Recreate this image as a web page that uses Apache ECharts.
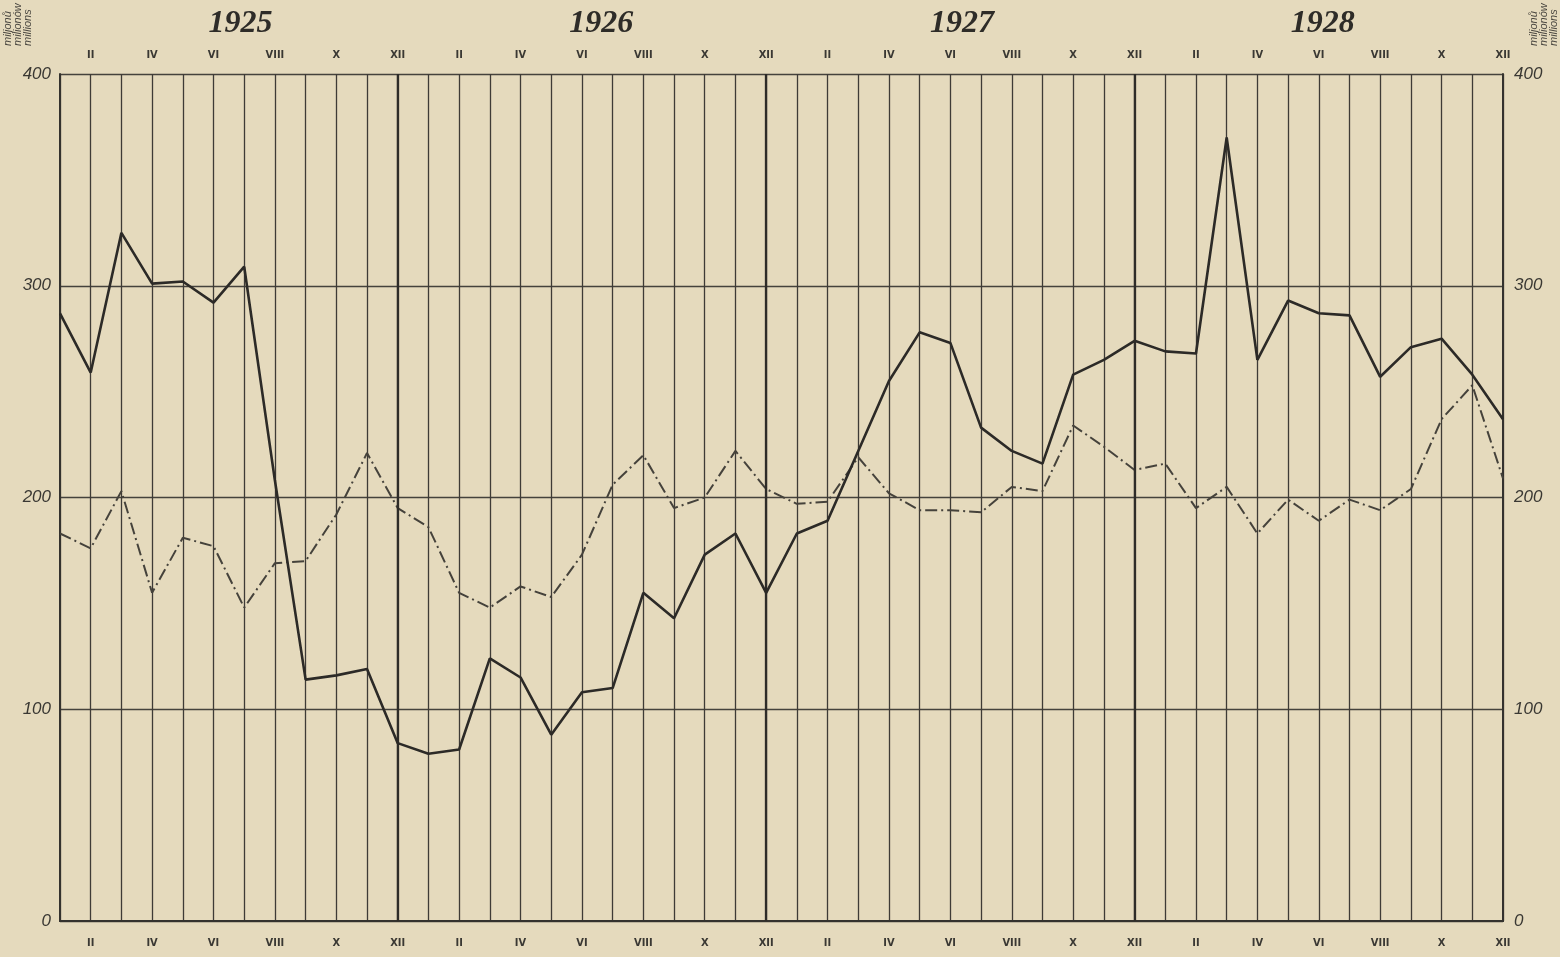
<!DOCTYPE html>
<html>
<head>
<meta charset="utf-8">
<script src="https://cdn.jsdelivr.net/npm/echarts@6/dist/echarts.min.js"></script>
<style>
html,body{margin:0;padding:0;background:#e5dabd;}
#c{width:1560px;height:957px;}
</style>
</head>
<body>
<div id="c"></div>
<script>
// ---- data ----
const years = ['1925', '1926', '1927', '1928'];
const months = ['I','II','III','IV','V','VI','VII','VIII','IX','X','XI','XII'];
const categories = years.flatMap(y => months.map(m => y + ' ' + m));
const yTicks = [0, 100, 200, 300, 400];
const yearEndMonths = ['1925 XII', '1926 XII', '1927 XII'];
const solidSeries = [
  287,259,325,301,302,292,309,208,114,116,119,84,
  79,81,124,115,88,108,110,155,143,173,183,155,
  183,189,222,255,278,273,233,222,216,258,265,274,
  269,268,370,265,293,287,286,257,271,275,258,237
];
const dashDotSeries = [
  183,176,203,155,181,177,148,169,170,192,221,195,
  186,155,148,158,153,173,206,220,195,200,222,204,
  197,198,219,202,194,194,193,205,203,234,224,213,
  216,195,205,183,199,189,199,194,204,237,253,209
];
const unitLabels = ['miljonů', 'milionów', 'millions'];

// ---- chart ----
const ink = '#34322e';
const chart = echarts.init(document.getElementById('c'), null, {renderer: 'canvas'});
const romanFont = {fontSize: 11, fontWeight: 'bold', color: '#3a3833', fontFamily: '"DejaVu Sans Condensed", "Liberation Sans Narrow", sans-serif'};
const monthLabel = v => v.split(' ')[1];
const evenMonth = (idx) => idx % 2 === 1;

function unitGraphics(xs) {
  return unitLabels.map((t, k) => ({
    type: 'text', x: xs[k], y: 46, rotation: Math.PI / 2,
    style: {text: t, font: 'italic 11px "Liberation Sans", sans-serif', fill: '#4a4740', textAlign: 'left', textVerticalAlign: 'middle'},
    silent: true
  }));
}

chart.setOption({
  backgroundColor: '#e5dabd',
  animation: false,
  grid: {left: 60, right: 57, top: 74, bottom: 36, show: false},
  xAxis: [
    {
      type: 'category', data: categories, boundaryGap: false, position: 'bottom',
      axisLine: {show: true, lineStyle: {color: ink, width: 2}},
      axisTick: {show: false},
      axisLabel: Object.assign({interval: evenMonth, margin: 17, formatter: monthLabel}, romanFont),
      splitLine: {show: true, interval: 0, lineStyle: {color: '#3e3b36', width: 1.3}}
    },
    {
      type: 'category', data: categories, boundaryGap: false, position: 'top',
      axisLine: {show: true, lineStyle: {color: ink, width: 2}},
      axisTick: {show: false},
      axisLabel: Object.assign({interval: evenMonth, margin: 13, formatter: monthLabel}, romanFont),
      splitLine: {show: false}
    },
    {
      type: 'category', data: years, boundaryGap: true, position: 'top',
      axisLine: {show: false}, axisTick: {show: false},
      axisLabel: {margin: 34, fontSize: 32, fontStyle: 'italic', fontWeight: 'bold', color: '#2e2c28', fontFamily: '"Liberation Serif", "DejaVu Serif", serif'},
      splitLine: {show: false}
    }
  ],
  yAxis: [
    {
      type: 'value', min: 0, max: 400, interval: 100, position: 'left',
      axisLine: {show: true, lineStyle: {color: ink, width: 2}},
      axisTick: {show: false},
      axisLabel: {margin: 9, fontSize: 17, fontStyle: 'italic', color: '#3a3833', fontFamily: '"Liberation Sans", sans-serif', formatter: v => yTicks.includes(v) ? String(v) : ''},
      splitLine: {show: true, lineStyle: {color: '#45423c', width: 1.4}}
    },
    {
      type: 'value', min: 0, max: 400, interval: 100, position: 'right',
      axisLine: {show: true, lineStyle: {color: ink, width: 2}},
      axisTick: {show: false},
      axisLabel: {margin: 11, fontSize: 17, fontStyle: 'italic', color: '#3a3833', fontFamily: '"Liberation Sans", sans-serif', formatter: v => yTicks.includes(v) ? String(v) : ''},
      splitLine: {show: false}
    }
  ],
  series: [
    {
      type: 'line', data: solidSeries, xAxisIndex: 0, yAxisIndex: 0,
      symbol: 'none', smooth: false, z: 5,
      lineStyle: {color: '#2c2a27', width: 2.6},
      markLine: {
        silent: true, symbol: 'none', label: {show: false},
        lineStyle: {color: '#2e2c28', width: 2.3, type: 'solid'},
        data: yearEndMonths.map(c => ({xAxis: c}))
      }
    },
    {
      type: 'line', data: dashDotSeries, xAxisIndex: 0, yAxisIndex: 0,
      symbol: 'none', smooth: false, z: 4,
      lineStyle: {color: '#45423b', width: 2, type: [12, 4, 2, 4]}
    }
  ],
  graphic: unitGraphics([8, 18, 28]).concat(unitGraphics([1534, 1544, 1554]))
});
</script>
</body>
</html>
